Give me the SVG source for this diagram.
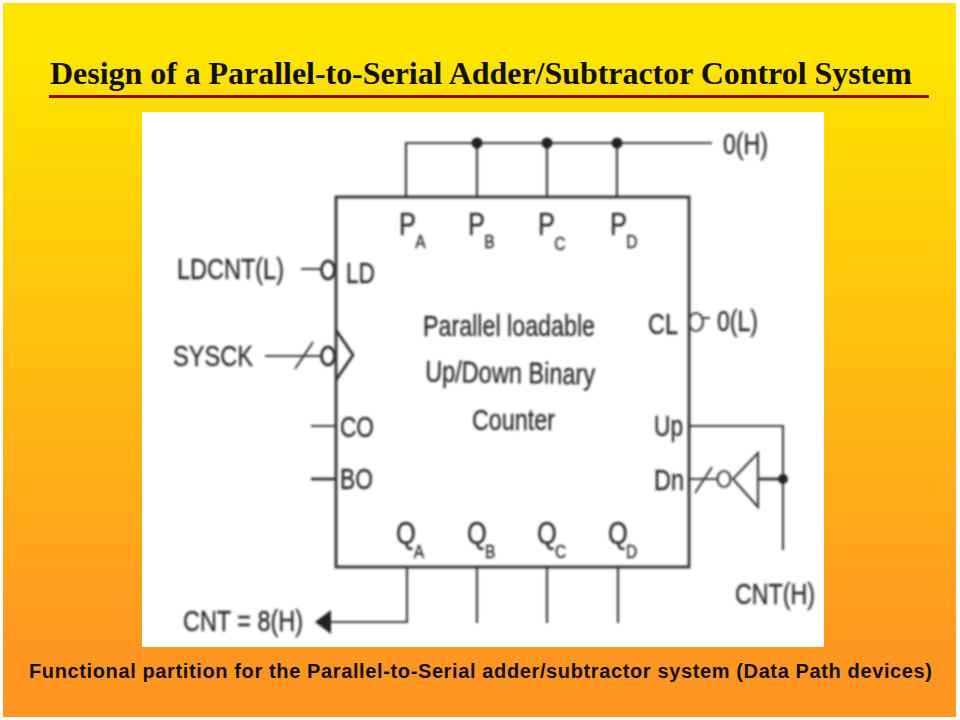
<svg xmlns="http://www.w3.org/2000/svg" width="960" height="720" viewBox="0 0 960 720">
<defs>
<linearGradient id="bg" x1="0" y1="0" x2="0" y2="1"><stop offset="0.08" stop-color="#ffe400"/><stop offset="0.92" stop-color="#ff9622"/></linearGradient>
<filter id="soft" x="-5%" y="-5%" width="110%" height="110%"><feGaussianBlur stdDeviation="0.8"/></filter>
</defs>
<style>
.w{fill:none;stroke:#3e3e3e;stroke-width:2.2}
.b{fill:none;stroke:#333;stroke-width:2.9}
.t{font-family:"Liberation Sans",Arial,sans-serif;fill:#2c2c2c;stroke:#2c2c2c;stroke-width:.35;font-size:30px}
.p{font-size:31px}
.s{font-size:19px}
.d{fill:#222}
</style>
<rect width="960" height="720" fill="#fff"/>
<rect x="3" y="3" width="953" height="714" fill="url(#bg)"/>
<text x="50" y="84" textLength="862" font-family="Liberation Serif,Times New Roman,serif" font-weight="bold" font-size="32" fill="#111">Design of a Parallel-to-Serial Adder/Subtractor Control System</text>
<rect x="49" y="95" width="880" height="3" fill="#8f0f0f"/>
<rect x="142" y="112" width="682" height="535" fill="#fff"/>
<g filter="url(#soft)">
<g id="connectors">
<path class="w" d="M406 196V143H712M477 143V196M547 143V196M617 143V196"/>
<path class="w" d="M301 269H322M265 356H322M295 369L313 342M311 426H336"/>
<path class="b" d="M311 479H336"/>
<path class="w" d="M407 567V622H330M477 567V623M547 567V623M618 567V623"/>
<path class="w" d="M703 318H710M690 426H783V550M690 479H718M695 493L712 467"/>
<path class="b" d="M758 479H783"/>
<circle class="d" cx="477" cy="143" r="5.5"/><circle class="d" cx="547" cy="143" r="5.5"/><circle class="d" cx="617" cy="143" r="5.5"/><circle class="d" cx="783" cy="479" r="5"/>
<path class="d" d="M315 622L331 610V634Z"/>
</g>
<g id="counter">
<rect class="b" x="336" y="197" width="353" height="370"/>
<path class="b" d="M336 330L353 355L336 380"/>
<ellipse class="b" cx="328" cy="270" rx="6.5" ry="9"/><ellipse class="b" cx="328" cy="356" rx="6.5" ry="9"/><ellipse class="w" cx="696" cy="322" rx="7" ry="9"/>
<text class="t p" transform="translate(399 235) scale(.82 1)">P<tspan class="s" dx="-1" dy="13">A</tspan></text>
<text class="t p" transform="translate(468 235) scale(.82 1)">P<tspan class="s" dx="-1" dy="13">B</tspan></text>
<text class="t p" transform="translate(538 235) scale(.82 1)">P<tspan class="s" dx="-1" dy="15">C</tspan></text>
<text class="t p" transform="translate(610 235) scale(.82 1)">P<tspan class="s" dx="-1" dy="13">D</tspan></text>
<text class="t" x="346" y="283" textLength="29" lengthAdjust="spacingAndGlyphs">LD</text>
<text class="t" x="340" y="437" textLength="34" lengthAdjust="spacingAndGlyphs">CO</text>
<text class="t" x="340" y="489" textLength="33" lengthAdjust="spacingAndGlyphs">BO</text>
<text class="t" x="648" y="334" textLength="30" lengthAdjust="spacingAndGlyphs">CL</text>
<text class="t" x="654" y="436" textLength="29" lengthAdjust="spacingAndGlyphs">Up</text>
<text class="t" x="654" y="490" textLength="30" lengthAdjust="spacingAndGlyphs">Dn</text>
<text class="t p" transform="translate(396 544) scale(.82 1)">Q<tspan class="s" dx="-2.5" dy="14">A</tspan></text>
<text class="t p" transform="translate(467 544) scale(.82 1)">Q<tspan class="s" dx="-2" dy="14">B</tspan></text>
<text class="t p" transform="translate(537 544) scale(.82 1)">Q<tspan class="s" dx="-2" dy="14">C</tspan></text>
<text class="t p" transform="translate(608 544) scale(.82 1)">Q<tspan class="s" dx="-2" dy="14">D</tspan></text>
<text class="t" x="423" y="336" textLength="172" lengthAdjust="spacingAndGlyphs">Parallel loadable</text>
<text class="t" x="425" y="383" textLength="170" lengthAdjust="spacingAndGlyphs" transform="rotate(1 510 380)">Up/Down Binary</text>
<text class="t" x="472" y="430" textLength="83" lengthAdjust="spacingAndGlyphs">Counter</text>
</g>
<g id="inverter">
<path class="w" d="M758 453V507L733 479Z"/>
<ellipse class="w" cx="724" cy="479" rx="6.5" ry="8"/>
</g>
<g id="labels">
<text class="t" x="723" y="154" textLength="45" lengthAdjust="spacingAndGlyphs">0(H)</text>
<text class="t" x="177" y="279" textLength="107" lengthAdjust="spacingAndGlyphs">LDCNT(L)</text>
<text class="t" x="173" y="366" textLength="80" lengthAdjust="spacingAndGlyphs">SYSCK</text>
<text class="t" x="717" y="331" textLength="41" lengthAdjust="spacingAndGlyphs">0(L)</text>
<text class="t" x="735" y="604" textLength="80" lengthAdjust="spacingAndGlyphs">CNT(H)</text>
<text class="t" x="183" y="631" textLength="120" lengthAdjust="spacingAndGlyphs">CNT = 8(H)</text>
</g>
</g>
<text x="29" y="678" textLength="903" font-family="Liberation Sans,Arial,sans-serif" font-weight="bold" font-size="20" fill="#111">Functional partition for the Parallel-to-Serial adder/subtractor system (Data Path devices)</text>
</svg>
